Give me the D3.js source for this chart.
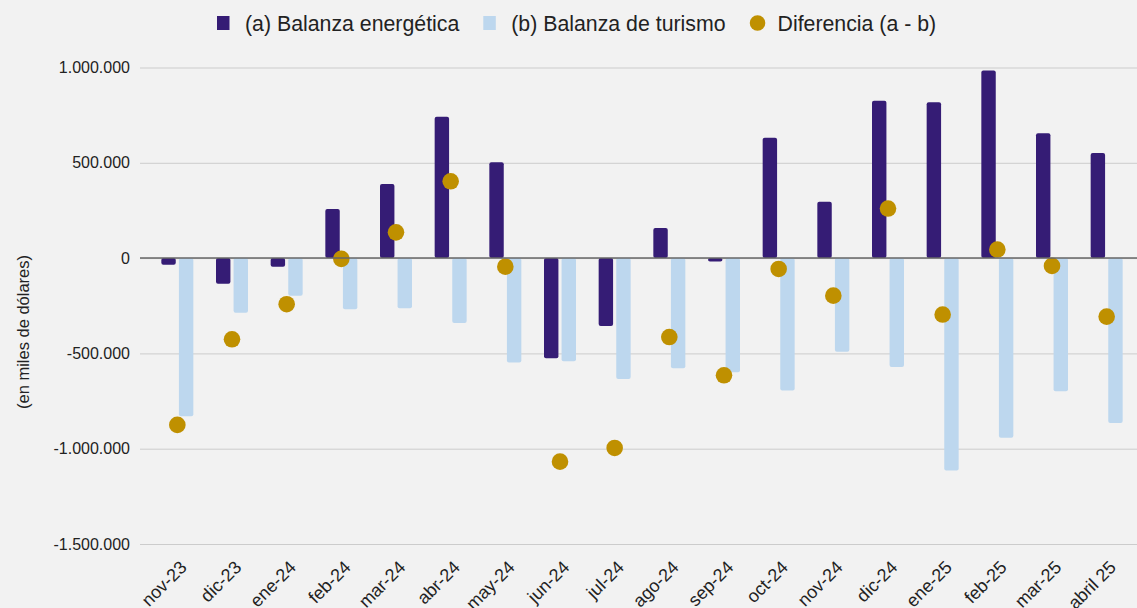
<!DOCTYPE html>
<html><head><meta charset="utf-8">
<script src="https://cdn.jsdelivr.net/npm/d3@7"></script>
<style>
html,body{margin:0;padding:0;background:#f2f2f2;}
svg{display:block;font-family:"Liberation Sans",Arial,sans-serif;}
</style></head>
<body><svg id="chart" width="1137" height="608"></svg>
<script>
const categories = ["nov-23","dic-23","ene-24","feb-24","mar-24","abr-24","may-24","jun-24","jul-24","ago-24","sep-24","oct-24","nov-24","dic-24","ene-25","feb-25","mar-25","abril 25"];
const energetica = [-35000,-135000,-45000,258000,389000,741000,503000,-525000,-356000,158000,-18000,632000,296000,826000,818000,984000,655000,552000];
const turismo = [-830000,-287000,-197000,-268000,-263000,-340000,-548000,-541000,-634000,-578000,-599000,-694000,-491000,-571000,-1115000,-943000,-699000,-865000];
const diferencia = [-875000,-426000,-242000,-4000,135000,403000,-45000,-1068000,-996000,-414000,-615000,-57000,-197000,260000,-296000,45000,-41000,-307000];
const seriesNames = ["(a) Balanza energética","(b) Balanza de turismo","Diferencia (a - b)"];
const yTicks = [-1500000,-1000000,-500000,0,500000,1000000];
const yTitle = "(en miles de dólares)";

const colors = ["#351c75","#bdd7ee","#bf9000"];
const svg = d3.select("#chart");
const gridLeft = 140, gridRight = 1137;

const x = d3.scaleBand().domain(categories).range([150, 1134]).paddingInner(0).paddingOuter(0);
const y = d3.scaleLinear().domain([-1500000, 1000000]).range([544, 67.5]);
const sub = d3.scaleBand().domain([0,1]).range([-16, 16]).paddingInner(0.18).paddingOuter(0);

const loc = d3.formatLocale({decimal:",", thousands:".", grouping:[3], currency:["$",""], minus:"-"});
const fmt = loc.format(",.0f");

// y axis with gridlines
const yAxis = svg.append("g").attr("transform", `translate(${gridLeft},0)`)
  .call(d3.axisLeft(y).tickValues(yTicks).tickFormat(fmt).tickSize(-(gridRight-gridLeft)).tickPadding(10));
yAxis.select(".domain").remove();
yAxis.selectAll(".tick line").attr("stroke", "#cccccc").attr("stroke-width", 1);
yAxis.selectAll(".tick text").attr("fill", "#222").attr("font-size", 16);

// y title
svg.append("text").attr("transform", `translate(29,332) rotate(-90)`)
  .attr("text-anchor","middle").attr("font-size",16.5).attr("fill","#222").text(yTitle);

// bars
const g = svg.append("g");
const cx = c => x(c) + x.bandwidth()/2;
function barY(v){ return Math.min(y(v), y(0)); }
function barH(v){ return Math.abs(y(v) - y(0)); }
g.selectAll(".barA").data(categories).join("rect")
  .attr("x", c => cx(c) + sub(0)).attr("width", sub.bandwidth())
  .attr("y", (c,i) => barY(energetica[i])).attr("height", (c,i) => barH(energetica[i]))
  .attr("rx", 2).attr("fill", colors[0]);
g.selectAll(".barB").data(categories).join("rect")
  .attr("x", c => cx(c) + sub(1)).attr("width", sub.bandwidth())
  .attr("y", (c,i) => barY(turismo[i])).attr("height", (c,i) => barH(turismo[i]))
  .attr("rx", 2).attr("fill", colors[1]);

// zero line
svg.append("line").attr("x1", gridLeft).attr("x2", gridRight).attr("y1", y(0)).attr("y2", y(0))
  .attr("stroke", "#666").attr("stroke-width", 1.5);

// dots
g.selectAll(".dot").data(categories).join("circle")
  .attr("cx", c => cx(c)).attr("cy", (c,i) => y(diferencia[i])).attr("r", 8.3).attr("fill", colors[2]);

// x axis
const xAxis = svg.append("g").attr("transform", `translate(0,553)`)
  .call(d3.axisBottom(x).tickSize(0).tickPadding(0));
xAxis.select(".domain").remove();
xAxis.selectAll(".tick text").attr("font-size", 18).attr("fill","#222")
  .attr("text-anchor","end").attr("x", 0).attr("y", 0).attr("dy", 0)
  .attr("transform", "translate(10.5,15.5) rotate(-45)");

// legend
const leg = svg.append("g").attr("font-size", 21.3).attr("fill", "#222");
let lx = 217;
seriesNames.forEach((name, i) => {
  if (i < 2) {
    leg.append("rect").attr("x", lx).attr("y", 16).attr("width", 12.5).attr("height", 14).attr("fill", colors[i]);
  } else {
    leg.append("circle").attr("cx", lx + 8).attr("cy", 23).attr("r", 7.8).attr("fill", colors[i]);
  }
  const t = leg.append("text").attr("x", lx + 28).attr("y", 31).text(name);
  lx = lx + 28 + t.node().getComputedTextLength() + 24;
});
</script></body></html>
